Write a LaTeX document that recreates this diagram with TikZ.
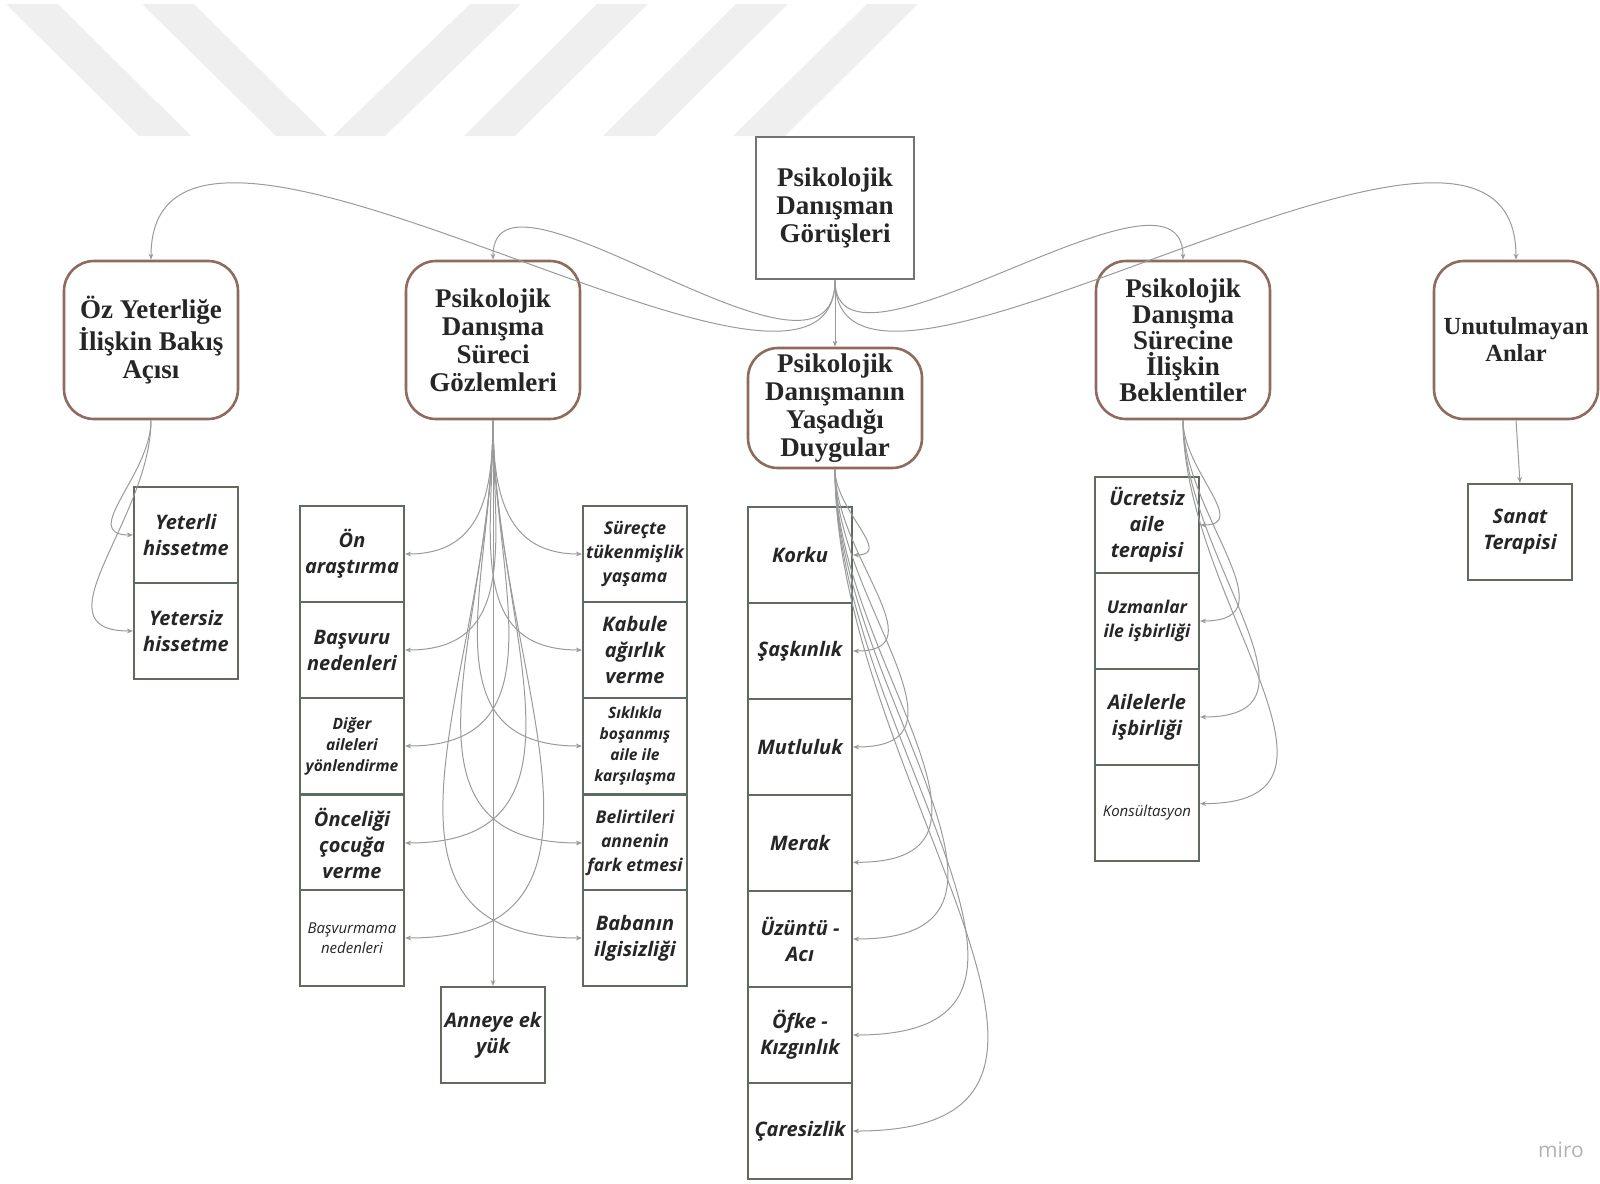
\documentclass[tikz,border=0pt]{standalone}
\usepackage{fontspec}
\setmainfont{Liberation Serif}
\newfontfamily\cardfont{Open Sans}
\usetikzlibrary{arrows.meta}

\definecolor{themeline}{HTML}{8E6A5F}
\definecolor{cardline}{HTML}{5E6B5F}
\definecolor{linkgray}{HTML}{9A9A9A}
\definecolor{stripe}{HTML}{EFEFEF}

\newcommand\headtext{\fontsize{13.5}{14}\selectfont\bfseries\color{black!85}}
\newcommand\cardtext{\cardfont\fontsize{10}{13}\selectfont\bfseries\itshape\color{black!85}}
\newcommand\cardmid{\cardfont\fontsize{8.8}{12}\selectfont\bfseries\itshape\color{black!85}}
\newcommand\cardsmall{\cardfont\fontsize{7.8}{10.5}\selectfont\bfseries\itshape\color{black!85}}
\newcommand\cardplain{\cardfont\fontsize{7.5}{10}\selectfont\itshape\color{black!85}}

\begin{document}
\begin{tikzpicture}[x=0.5pt, y=-0.5pt,
    rootbox/.style={draw=black!55, line width=1.3pt, fill=white, minimum width=79pt,
      minimum height=71pt, inner sep=1pt, align=center, font=\headtext},
    themebox/.style={draw=themeline, line width=1.3pt, rounded corners=15pt, fill=white,
      minimum width=87pt, minimum height=79pt, inner sep=1pt, align=center, font=\headtext},
    card/.style={draw=cardline, line width=1.1pt, fill=white, minimum width=52pt,
      minimum height=48pt, inner sep=1pt, align=center, font=\cardtext},
    midcard/.style={card, font=\cardmid},
    smallcard/.style={card, font=\cardsmall},
    plaincard/.style={card, font=\cardplain},
    link/.style={draw=linkgray, line width=0.5pt, -{Stealth[length=3pt,width=2.4pt]}},
    fan/.style={link, looseness=1.2}]

  \useasboundingbox (0,0) rectangle (1600,1183);

  % watermark stripes
  \fill[stripe] (6,4) -- (58,4) -- (191,136) -- (139,136) -- cycle;
  \fill[stripe] (142,4) -- (194,4) -- (327,136) -- (276,136) -- cycle;
  \fill[stripe] (470,4) -- (521,4) -- (385,136) -- (333,136) -- cycle;
  \fill[stripe] (597,4) -- (648,4) -- (515,136) -- (464,136) -- cycle;
  \fill[stripe] (736,4) -- (788,4) -- (655,136) -- (603,136) -- cycle;
  \fill[stripe] (867,4) -- (918,4) -- (785,136) -- (733,136) -- cycle;

  % root and themes
  \node[rootbox] (root) at (835,208) {Psikolojik\\Danışman\\Görüşleri};

  \node[themebox] (oz)   at (151,340)  {Öz Yeterliğe\\İlişkin Bakış\\Açısı};
  \node[themebox] (goz)  at (493,340)  {Psikolojik\\Danışma\\Süreci\\Gözlemleri};
  \node[themebox, minimum height=60pt] (duyg) at (835,408) {Psikolojik\\Danışmanın\\Yaşadığı\\Duygular};
  \node[themebox, font=\headtext\fontsize{13.5}{13}\selectfont] (bek) at (1183,340)
    {Psikolojik\\Danışma\\Sürecine\\İlişkin\\Beklentiler};
  \node[themebox, minimum width=82pt, font=\headtext\fontsize{12.3}{13.5}\selectfont] (unut) at (1516,340)
    {Unutulmayan\\Anlar};

  % Oz yeterlik
  \node[card] (yeterli)  at (186,535) {Yeterli\\hissetme};
  \node[card] (yetersiz) at (186,631) {Yetersiz\\hissetme};

  % gozlemler, left
  \node[card]      (on)         at (352,554) {Ön\\araştırma};
  \node[card]      (basvuru)    at (352,650) {Başvuru\\nedenleri};
  \node[smallcard] (diger)      at (352,746) {Diğer\\aileleri\\yönlendirme};
  \node[card]      (oncelik)    at (352,843) {Önceliği\\çocuğa\\verme};
  \node[plaincard] (basvurmama) at (352,938) {Başvurmama\\nedenleri};

  % gozlemler, right
  \node[midcard]   (surecte) at (635,554) {Süreçte\\tükenmişlik\\yaşama};
  \node[card]      (kabul)   at (635,650) {Kabule\\ağırlık\\verme};
  \node[smallcard] (siklik)  at (635,746) {Sıklıkla\\boşanmış\\aile ile\\karşılaşma};
  \node[midcard]   (belirti) at (635,843) {Belirtileri\\annenin\\fark etmesi};
  \node[card]      (baba)    at (635,938) {Babanın\\ilgisizliği};

  \node[card] (anne) at (493,1035) {Anneye ek\\yük};

  % duygular
  \node[card] (korku)   at (800,555)  {Korku};
  \node[card] (saskin)  at (800,651)  {Şaşkınlık};
  \node[card] (mutlu)   at (800,747)  {Mutluluk};
  \node[card] (merak)   at (800,843)  {Merak};
  \node[card] (uzuntu)  at (800,939)  {Üzüntü -\\Acı};
  \node[card] (ofke)    at (800,1035) {Öfke -\\Kızgınlık};
  \node[card] (caresiz) at (800,1131) {Çaresizlik};

  % beklentiler
  \node[card]      (ucretsiz) at (1147,525) {Ücretsiz\\aile\\terapisi};
  \node[midcard]   (uzman)    at (1147,621) {Uzmanlar\\ile işbirliği};
  \node[card]      (aileler)  at (1147,717) {Ailelerle\\işbirliği};
  \node[plaincard] (konsult)  at (1147,813) {Konsültasyon};

  \node[card] (sanat) at (1520,532) {Sanat\\Terapisi};

  \node[font=\cardfont\fontsize{10.5}{10.5}\selectfont, text=black!30] (miro) at (1561,1150) {miro};

  % root links
  \draw[link] (root.south) .. controls +(0,200) and +(0,-250) .. (oz.north);
  \draw[link] (root.south) .. controls +(0,140) and +(0,-120) .. (goz.north);
  \draw[link] (root.south) -- (duyg.north);
  \draw[link] (root.south) .. controls +(0,120) and +(0,-120) .. (bek.north);
  \draw[link] (root.south) .. controls +(0,200) and +(0,-250) .. (unut.north);

  \draw[fan] (oz.south) to[out=-90, in=180] (yeterli.west);
  \draw[fan] (oz.south) to[out=-90, in=180] (yetersiz.west);

  \draw[fan] (goz.south) to[out=-90, in=0] (on.east);
  \draw[fan] (goz.south) to[out=-90, in=0] (basvuru.east);
  \draw[fan] (goz.south) to[out=-90, in=0] (diger.east);
  \draw[fan] (goz.south) to[out=-90, in=0] (oncelik.east);
  \draw[fan] (goz.south) to[out=-90, in=0] (basvurmama.east);
  \draw[fan] (goz.south) to[out=-90, in=180] (surecte.west);
  \draw[fan] (goz.south) to[out=-90, in=180] (kabul.west);
  \draw[fan] (goz.south) to[out=-90, in=180] (siklik.west);
  \draw[fan] (goz.south) to[out=-90, in=180] (belirti.west);
  \draw[fan] (goz.south) to[out=-90, in=180] (baba.west);
  \draw[link] (goz.south) -- (anne.north);

  \draw[fan] (duyg.south) to[out=-90, in=0] (korku.east);
  \draw[fan] (duyg.south) to[out=-90, in=0] (saskin.east);
  \draw[fan] (duyg.south) to[out=-90, in=0] (mutlu.east);
  \draw[fan] (duyg.south) to[out=-90, in=0] (merak.-20);
  \draw[fan] (duyg.south) to[out=-90, in=0] (uzuntu.east);
  \draw[fan] (duyg.south) to[out=-90, in=0] (ofke.east);
  \draw[fan] (duyg.south) to[out=-90, in=0] (caresiz.east);

  \draw[fan] (bek.south) to[out=-90, in=0] (ucretsiz.east);
  \draw[fan] (bek.south) to[out=-90, in=0] (uzman.east);
  \draw[fan] (bek.south) to[out=-90, in=0] (aileler.east);
  \draw[fan] (bek.south) to[out=-90, in=0] (konsult.10);

  \draw[link] (unut.south) -- (sanat.north);
\end{tikzpicture}
\end{document}
